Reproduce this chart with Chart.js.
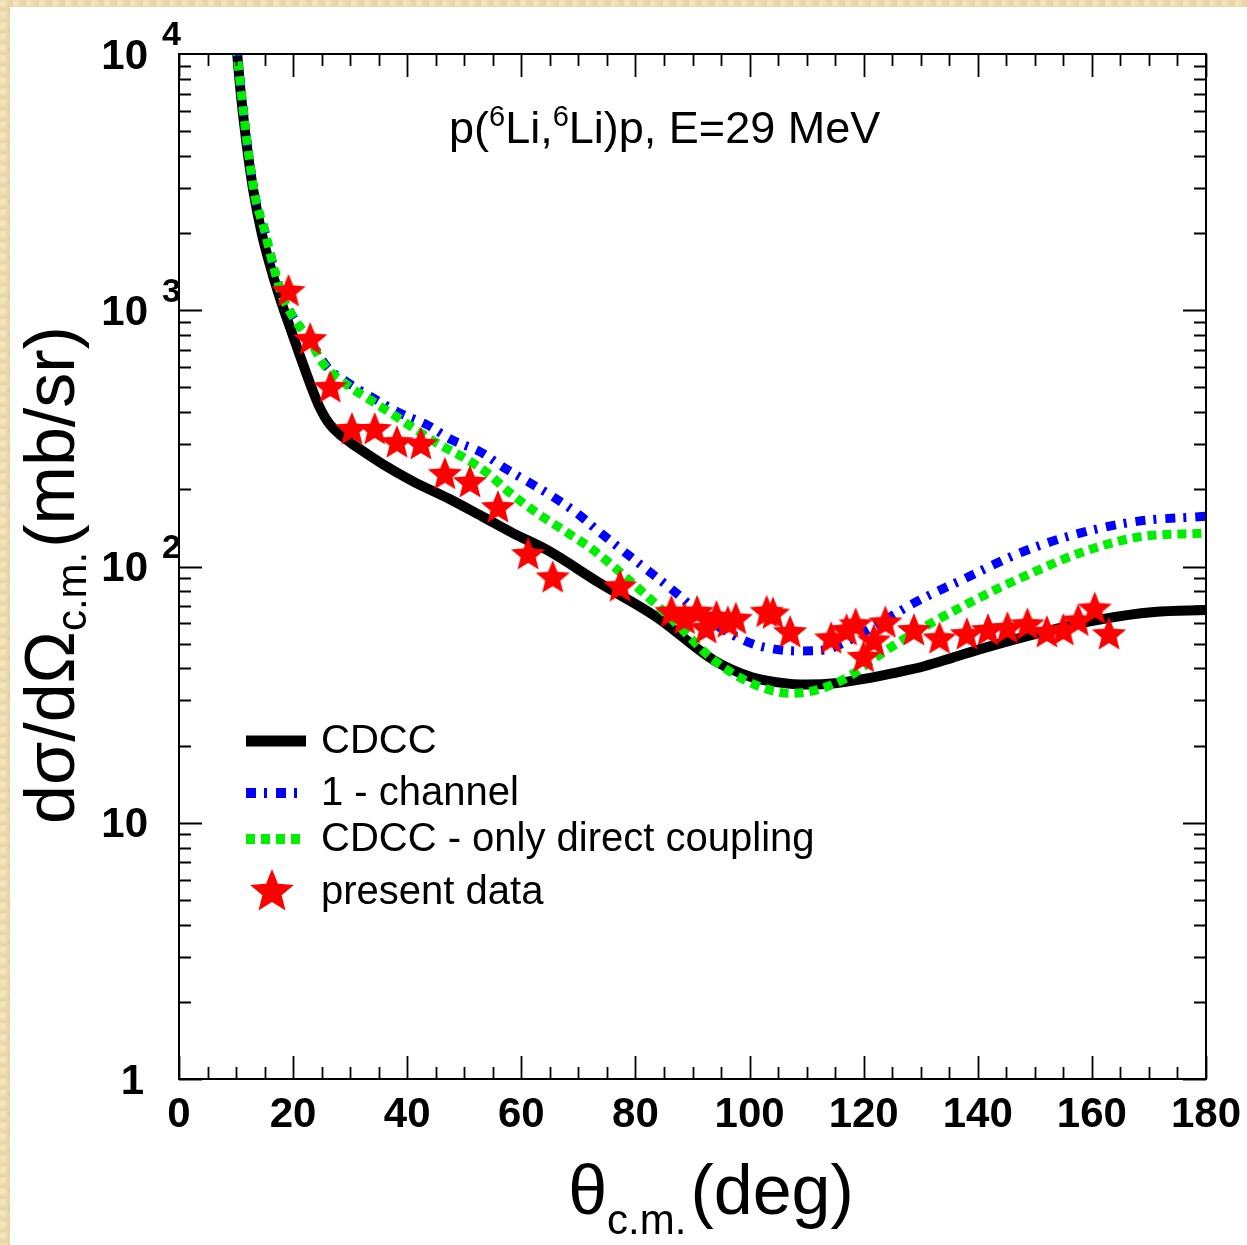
<!DOCTYPE html>
<html>
<head>
<meta charset="utf-8">
<script src="https://cdn.jsdelivr.net/npm/chart.js@4.4.1/dist/chart.umd.min.js"></script>
<style>
  html, body { margin: 0; padding: 0; }
  body {
    width: 1247px; height: 1245px; overflow: hidden;
    background-color: #e9d6a8;
    background-image:
      radial-gradient(circle at 20% 30%, rgba(255,245,215,0.6) 0, rgba(255,245,215,0) 6px),
      radial-gradient(circle at 70% 60%, rgba(205,175,120,0.5) 0, rgba(205,175,120,0) 5px);
    background-size: 13px 11px, 17px 19px;
  }
  #wrap { position: absolute; left: 0; top: 0; width: 1247px; height: 1245px; }
</style>
</head>
<body>
<div id="wrap"><canvas id="xsec" width="1247" height="1245"></canvas></div>
<script>
// p(6Li,6Li)p elastic scattering, E = 29 MeV

// CDCC
const cdccAngle = [9.6, 10.2, 10.9, 11.9, 13.0, 14.5, 15.9, 17.35, 18.75, 20.7, 22.4, 23.5, 24.5, 25.5, 26.5, 28.0, 30.0, 31.2, 35.8, 41.0, 47.5, 53.3, 58.5, 64.5, 73.8, 83.7, 93.8, 100.4, 105.0, 110.0, 115.0, 120.6, 125.0, 130.6, 135.5, 140.7, 150.7, 160.9, 170.9, 180];
const cdccXsec  = [14000, 10000, 6760, 4370, 2950, 1995, 1514, 1178, 950, 715, 560, 482, 425, 385, 357, 330, 305, 292, 250, 215, 183, 156, 135, 116, 86, 63.5, 43, 37, 35.3, 34.6, 35.0, 36.6, 38.3, 40.8, 44, 47.8, 55, 61.8, 66.4, 67.6];

// 1 - channel
const oneChAngle = [9.6, 10.2, 11.0, 12.0, 13.3, 15.0, 16.5, 18.0, 20.0, 23.0, 26.0, 29.4, 34.0, 38.7, 43.5, 47.8, 52.8, 57.1, 61.5, 65.9, 70.3, 73.4, 78.3, 80.8, 87.1, 92.0, 97.1, 101.0, 105.2, 109.0, 113.2, 117.0, 121.3, 129.3, 137.4, 147.4, 157.4, 167.9, 180];
const oneChXsec  = [14000, 10000, 6800, 4400, 2800, 2050, 1500, 1150, 941, 760, 600, 525, 455, 397, 357, 312, 280, 242, 212, 185, 158, 138, 113, 102, 79, 63.5, 54, 49.5, 47.3, 46.8, 47.3, 51, 57.5, 73, 89, 113, 134, 150, 157];

// CDCC - only direct coupling
const directAngle = [9.6, 10.2, 11.0, 12.0, 13.3, 15.0, 16.5, 18.0, 20.0, 23.0, 25.2, 30.0, 33.5, 38.2, 45.2, 49.8, 54.0, 58.0, 62.7, 67.3, 72.6, 80.3, 87.1, 93.8, 100.4, 107.1, 111.8, 117.2, 123.9, 130.6, 137.4, 144.0, 150.7, 157.4, 167.9, 180];
const directXsec  = [14000, 10000, 6800, 4400, 2800, 2050, 1500, 1150, 941, 760, 622, 501, 447, 383, 303, 267, 232, 194, 162, 139, 116, 83, 60, 43, 35, 32, 33, 37, 47, 58, 70, 83, 97, 112, 130, 135];

// present data
const dataAngle = [19.2, 23.0, 26.5, 30.3, 34.3, 38.2, 42.4, 46.6, 51.0, 55.9, 61.2, 65.5, 77.3, 86.3, 88.6, 90.8, 92.4, 94.2, 96.2, 97.6, 103.0, 104.1, 107.1, 114.3, 117.0, 118.6, 120.0, 121.8, 123.8, 128.8, 133.3, 138.1, 141.8, 145.2, 148.7, 152.1, 155.0, 157.6, 160.5, 163.0];
const dataXsec  = [1180, 765, 497, 341, 341, 303, 298, 228, 212, 169, 111, 90, 83, 66, 62, 66, 57, 63, 60, 62, 66, 65, 55, 52, 56, 59, 44, 51, 60, 56, 52, 54, 56, 57, 59, 55, 56, 61, 68, 54];

const xTickLabels = [0, 20, 40, 60, 80, 100, 120, 140, 160, 180];
const yDecades = [0, 1, 2, 3, 4];

const FONT = '"Liberation Sans", Arial, Helvetica, sans-serif';

function zip(xs, ys) {
  return xs.map((x, i) => ({ x: x, y: ys[i] }));
}

function makeStar(r, color) {
  const c = document.createElement('canvas');
  const s = Math.ceil(2 * r + 4);
  c.width = s; c.height = s;
  const g = c.getContext('2d');
  g.fillStyle = color;
  g.beginPath();
  for (let i = 0; i < 10; i++) {
    const a = -Math.PI / 2 + i * Math.PI / 5;
    const rr = (i % 2) ? r * 0.44 : r;
    const px = s / 2 + rr * Math.cos(a);
    const py = s / 2 + rr * Math.sin(a);
    if (i === 0) g.moveTo(px, py); else g.lineTo(px, py);
  }
  g.closePath();
  g.fill();
  return c;
}

const starMark = makeStar(18, '#ff0000');
const starLegend = makeStar(23, '#ff0000');

// frame, inward ticks, labels, titles and legend
const framePlugin = {
  id: 'frame',
  beforeDraw(chart) {
    const ctx = chart.ctx;
    ctx.save();
    ctx.fillStyle = '#ffffff';
    ctx.fillRect(10, 7, chart.width - 10, chart.height - 7);
    ctx.restore();
  },
  afterDatasetsDraw(chart) {
    const ctx = chart.ctx;
    const a = chart.chartArea;
    const xs = chart.scales.x;
    const ys = chart.scales.y;
    ctx.save();
    ctx.strokeStyle = '#000';
    ctx.lineWidth = 2;
    ctx.strokeRect(a.left, a.top, a.right - a.left, a.bottom - a.top);

    ctx.lineWidth = 1.8;
    ctx.beginPath();
    for (let v = 0; v <= 180; v += 5) {
      const px = Math.round(xs.getPixelForValue(v)) + 0.5;
      const len = (v % 20 === 0) ? 23 : 12;
      ctx.moveTo(px, a.bottom); ctx.lineTo(px, a.bottom - len);
      ctx.moveTo(px, a.top); ctx.lineTo(px, a.top + len);
    }
    for (let d = 0; d < 4; d++) {
      for (let m = 1; m <= 9; m++) {
        const py = Math.round(ys.getPixelForValue(m * Math.pow(10, d))) + 0.5;
        const len = (m === 1) ? 23 : 12;
        ctx.moveTo(a.left, py); ctx.lineTo(a.left + len, py);
        ctx.moveTo(a.right, py); ctx.lineTo(a.right - len, py);
      }
    }
    ctx.stroke();

    // tick labels
    ctx.fillStyle = '#000';
    ctx.font = 'bold 42px ' + FONT;
    ctx.textAlign = 'center';
    ctx.textBaseline = 'middle';
    xTickLabels.forEach(v => {
      ctx.fillText(String(v), xs.getPixelForValue(v), 1115);
    });
    yDecades.forEach(d => {
      const py = ys.getPixelForValue(Math.pow(10, d));
      ctx.font = 'bold 42px ' + FONT;
      ctx.textAlign = 'right';
      if (d === 0) {
        ctx.fillText('1', 144, py + 3);
      } else {
        ctx.fillText('10', 148, py + 3);
        if (d > 1) {
          ctx.font = 'bold 34px ' + FONT;
          ctx.textAlign = 'left';
          ctx.fillText(String(d), 162, py - 18);
        }
      }
    });

    // axis titles
    ctx.textAlign = 'left';
    ctx.textBaseline = 'alphabetic';
    const big = '70px ' + FONT;
    const sub = '42px ' + FONT;
    ctx.font = big; const wx1 = ctx.measureText('θ').width;
    ctx.font = sub; const wx2 = ctx.measureText('c.m.').width;
    ctx.font = big; const wx3 = ctx.measureText('(deg)').width;
    let tx = 711 - (wx1 + wx2 + wx3 + 4) / 2;
    ctx.font = big; ctx.fillText('θ', tx, 1214); tx += wx1;
    ctx.font = sub; ctx.fillText('c.m.', tx, 1234); tx += wx2 + 4;
    ctx.font = big; ctx.fillText('(deg)', tx, 1214);

    ctx.save();
    ctx.translate(74, 575);
    ctx.rotate(-Math.PI / 2);
    ctx.font = big; const wy1 = ctx.measureText('dσ/dΩ').width;
    ctx.font = sub; const wy2 = ctx.measureText('c.m.').width;
    ctx.font = big; const wy3 = ctx.measureText('(mb/sr)').width;
    let ty = -(wy1 + wy2 + wy3 + 4) / 2;
    ctx.font = big; ctx.fillText('dσ/dΩ', ty, 0); ty += wy1;
    ctx.font = sub; ctx.fillText('c.m.', ty, 12); ty += wy2 + 4;
    ctx.font = big; ctx.fillText('(mb/sr)', ty, 0);
    ctx.restore();

    // reaction label
    const rFont = '45px ' + FONT;
    const rSup = '29px ' + FONT;
    const parts = [['p(', rFont, 0], ['6', rSup, -17], ['Li,', rFont, 0], ['6', rSup, -17], ['Li)p, E=29 MeV', rFont, 0]];
    let rx = 449;
    parts.forEach(p => {
      ctx.font = p[1];
      ctx.fillText(p[0], rx, 143 + p[2]);
      rx += ctx.measureText(p[0]).width;
    });

    // legend
    const ds = chart.data.datasets;
    const rows = [
      { ds: ds[3], y: 741 },
      { ds: ds[2], y: 793 },
      { ds: ds[1], y: 839 },
      { ds: ds[0], y: 892 }
    ];
    ctx.font = '40px ' + FONT;
    ctx.textBaseline = 'middle';
    rows.forEach(r => {
      if (r.ds.showLine === false) {
        ctx.drawImage(starLegend, 272 - starLegend.width / 2, r.y - starLegend.height / 2);
      } else {
        ctx.save();
        ctx.strokeStyle = r.ds.borderColor;
        ctx.lineWidth = r.ds.borderWidth + 1;
        ctx.lineCap = 'butt';
        ctx.setLineDash(r.ds.borderDash || []);
        ctx.beginPath();
        ctx.moveTo(246, r.y);
        ctx.lineTo(r.ds.borderDash ? 302 : 306, r.y);
        ctx.stroke();
        ctx.restore();
      }
      ctx.fillStyle = '#000';
      ctx.fillText(r.ds.label, 321, r.y + 1);
    });
    ctx.restore();
  }
};

new Chart(document.getElementById('xsec'), {
  type: 'line',
  data: {
    datasets: [
      {
        label: 'present data',
        data: zip(dataAngle, dataXsec),
        showLine: false,
        pointStyle: starMark,
        pointRadius: 18,
        borderWidth: 0,
        order: 0
      },
      {
        label: 'CDCC - only direct coupling',
        data: zip(directAngle, directXsec),
        borderColor: '#00ee00',
        borderWidth: 9,
        borderDash: [9, 6],
        borderCapStyle: 'butt',
        pointRadius: 0,
        cubicInterpolationMode: 'monotone',
        clip: 0,
        order: 1
      },
      {
        label: '1 - channel',
        data: zip(oneChAngle, oneChXsec),
        borderColor: '#0000ff',
        borderWidth: 9,
        borderDash: [10, 8, 3, 9],
        borderCapStyle: 'butt',
        pointRadius: 0,
        cubicInterpolationMode: 'monotone',
        clip: 0,
        order: 2
      },
      {
        label: 'CDCC',
        data: zip(cdccAngle, cdccXsec),
        borderColor: '#000000',
        borderWidth: 10,
        pointRadius: 0,
        cubicInterpolationMode: 'monotone',
        clip: 0,
        order: 3
      }
    ]
  },
  options: {
    responsive: false,
    animation: false,
    devicePixelRatio: 1,
    layout: { padding: { left: 179, top: 54, right: 41, bottom: 166 } },
    scales: {
      x: { type: 'linear', min: 0, max: 180, display: false },
      y: { type: 'logarithmic', min: 1, max: 10000, display: false }
    },
    plugins: {
      legend: { display: false },
      tooltip: { enabled: false }
    }
  },
  plugins: [framePlugin]
});
</script>
</body>
</html>
